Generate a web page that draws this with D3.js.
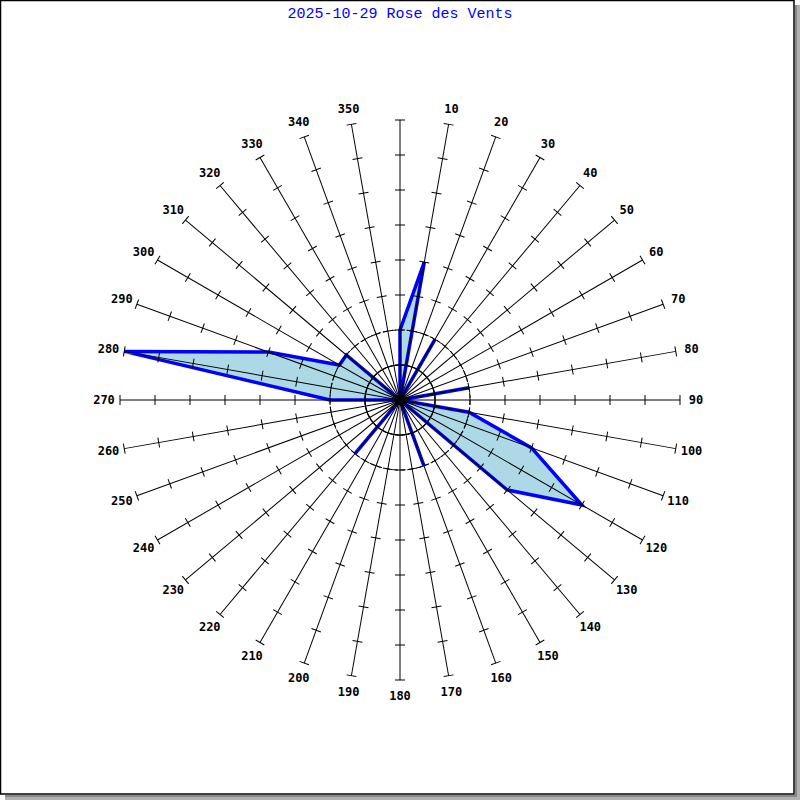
<!DOCTYPE html>
<html><head><meta charset="utf-8">
<script src="https://cdn.jsdelivr.net/npm/d3@7"></script>
<style>body{margin:0;background:#fff}svg{display:block}</style>
</head><body>
<svg id="chart" width="800" height="800"></svg>
<script>
const title = "2025-10-29 Rose des Vents";
const directions = [0,10,20,30,40,50,60,70,80,90,100,110,120,130,140,150,160,170,180,190,200,210,220,230,240,250,260,270,280,290,300,310,320,330,340,350];
const values =     [2, 4, 0, 2, 0, 0, 0, 0, 2, 0,  2,  4,  6,  4,  0,  0,  2,  0,  0,  0,  0,  0,  2,  0,  0,  0,  0,  2,  8,  4,  2,  2,  0,  0,  0,  0];
const radialTicks = [1,2,3,4,5,6,7,8];
const labelDirections = directions.filter(d => d !== 0);

const svg = d3.select("#chart");
const cx = 400, cy = 400, R = 280;
const r = d3.scaleLinear().domain([0, 8]).range([0, R]);
const ang = d3.scaleLinear().domain([0, 360]).range([0, 2 * Math.PI]);

// frame with shadow
svg.append("rect").attr("x", 795).attr("y", 5).attr("width", 5).attr("height", 795).attr("fill", "#b0b0b0");
svg.append("rect").attr("x", 5).attr("y", 795).attr("width", 795).attr("height", 5).attr("fill", "#b0b0b0");
svg.append("rect").attr("x", 795).attr("y", 5).attr("width", 2).attr("height", 792).attr("fill", "#888");
svg.append("rect").attr("x", 5).attr("y", 795).attr("width", 792).attr("height", 2).attr("fill", "#888");
svg.append("rect").attr("x", 0.5).attr("y", 0.5).attr("width", 793.5).attr("height", 793.5)
  .attr("fill", "#fff").attr("stroke", "#000").attr("stroke-width", 1.5);

svg.append("text").attr("x", 400).attr("y", 14).attr("text-anchor", "middle")
  .attr("dominant-baseline", "central")
  .attr("font-family", "Liberation Mono, DejaVu Sans Mono, monospace").attr("font-size", 15)
  .attr("fill", "#0000ff").text(title);

const g = svg.append("g").attr("transform", `translate(${cx},${cy})`);

// polygon
const line = d3.lineRadial().angle((d, i) => ang(directions[i])).radius(d => r(d)).curve(d3.curveLinearClosed);
g.append("path").attr("d", line(values))
  .attr("fill", "#add8e6").attr("stroke", "#0000ff").attr("stroke-width", 3.5)
  .attr("stroke-linejoin", "miter");

// grid circles
g.append("circle").attr("r", r(1)).attr("fill", "none").attr("stroke", "#000").attr("stroke-width", 1);
g.append("circle").attr("r", r(2)).attr("fill", "none").attr("stroke", "#000").attr("stroke-width", 1)
  .attr("stroke-dasharray", "5,3");

// spokes
const spokes = g.selectAll("g.spoke").data(directions).join("g").attr("class", "spoke")
  .attr("transform", d => `rotate(${d})`);
spokes.append("line").attr("x1", 0).attr("y1", 0).attr("x2", 0).attr("y2", -r(8))
  .attr("stroke", "#000").attr("stroke-width", 1);
spokes.selectAll("line.tick").data(radialTicks).join("line").attr("class", "tick")
  .attr("x1", -5).attr("x2", 5).attr("y1", t => -r(t)).attr("y2", t => -r(t))
  .attr("stroke", "#000").attr("stroke-width", 1);

// labels
g.selectAll("text.lab").data(labelDirections).join("text").attr("class", "lab")
  .attr("x", d => d3.pointRadial(ang(d), 296)[0])
  .attr("y", d => d3.pointRadial(ang(d), 296)[1])
  .attr("text-anchor", "middle").attr("dominant-baseline", "central")
  .attr("font-family", "DejaVu Sans Mono, monospace").attr("font-weight", "bold").attr("font-size", 12)
  .attr("fill", "#000").text(d => d);

g.append("circle").attr("r", 5).attr("fill", "#000");
</script>
</body></html>
